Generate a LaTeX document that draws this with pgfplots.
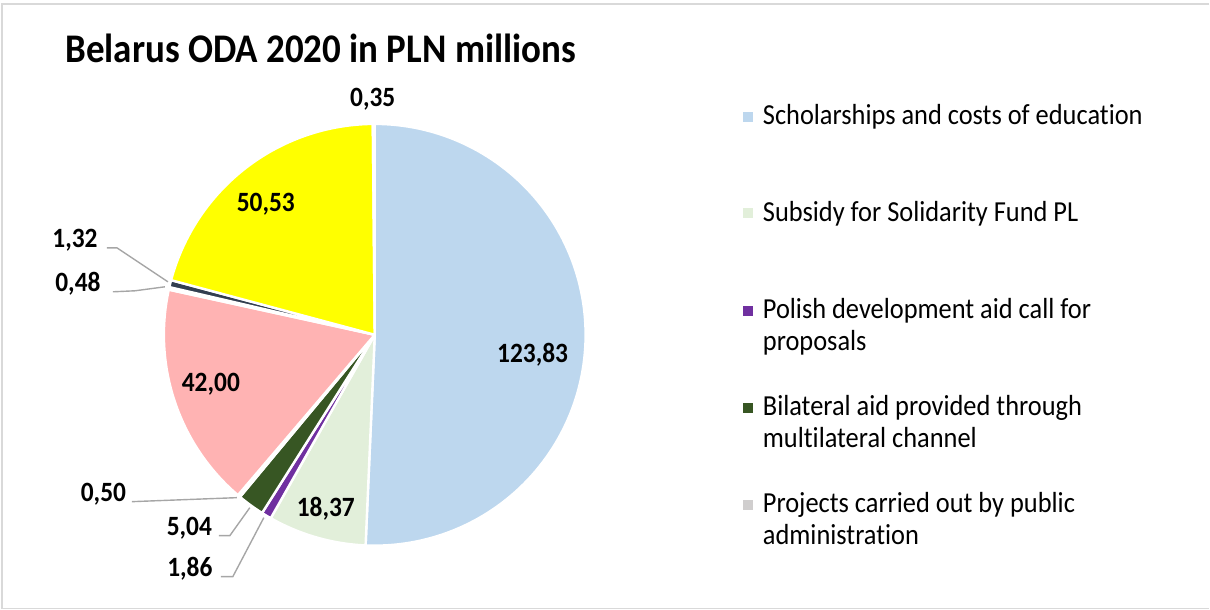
\documentclass[border=0pt]{standalone}
\usepackage{pgfplots}
\pgfplotsset{compat=1.18}
\usepackage{fontspec}
\setmainfont{Carlito}[Ligatures=NoCommon]
\definecolor{cBlue}{HTML}{BDD7EE}
\definecolor{cLGreen}{HTML}{E2EFDA}
\definecolor{cPurple}{HTML}{7030A0}
\definecolor{cDGreen}{HTML}{375623}
\definecolor{cGray}{HTML}{D0CECE}
\definecolor{cPink}{HTML}{FFB3B3}
\definecolor{cDark}{HTML}{333F50}
\definecolor{cYellow}{HTML}{FFFF00}
\definecolor{cLead}{HTML}{A6A6A6}
\definecolor{cFrame}{HTML}{D9D9D9}
% values (PLN millions), clockwise from 12 o'clock
\def\vA{123.83}\def\vB{18.37}\def\vC{1.86}\def\vD{5.04}\def\vE{0.50}
\def\vF{42.00}\def\vG{0.48}\def\vH{1.32}\def\vI{50.53}\def\vJ{0.35}
\pgfmathsetmacro\tot{\vA+\vB+\vC+\vD+\vE+\vF+\vG+\vH+\vI+\vJ}
\pgfmathsetmacro\aA{90}
\pgfmathsetmacro\aB{\aA-\vA/\tot*360}
\pgfmathsetmacro\aC{\aB-\vB/\tot*360}
\pgfmathsetmacro\aD{\aC-\vC/\tot*360}
\pgfmathsetmacro\aE{\aD-\vD/\tot*360}
\pgfmathsetmacro\aF{\aE-\vE/\tot*360}
\pgfmathsetmacro\aG{\aF-\vF/\tot*360}
\pgfmathsetmacro\aH{\aG-\vG/\tot*360}
\pgfmathsetmacro\aI{\aH-\vH/\tot*360}
\pgfmathsetmacro\aJ{\aI-\vI/\tot*360}
\pgfmathsetmacro\aK{\aJ-\vJ/\tot*360}
\newcommand\slice[3]{%
  \addplot[fill=#3, draw=white, line width=1.2pt, line join=round, domain=#2:#1, samples=120, variable=\t]
    ({375+211*cos(\t)},{275+211*sin(\t)}) -- (axis cs:375,275) -- cycle;}
\newcommand\vs[1]{\scalebox{1}[1.1]{#1}}
\newcommand\lab[3]{\node[anchor=base, inner sep=0pt, font=\fontsize{12.7}{15}\selectfont\bfseries] at (axis cs:#1,#2) {\vs{#3}};}
\newcommand\legsq[2]{\fill[#2] (axis cs:743,#1) rectangle (axis cs:753,{#1+10});}
\newcommand\legt[2]{\node[anchor=base west, inner sep=0pt, font=\fontsize{13.2}{15.5}\selectfont] at (axis cs:763,#1) {\vs{#2}};}
\begin{document}
\begin{tikzpicture}
\begin{axis}[
  width=605pt, height=305pt, scale only axis,
  xmin=0, xmax=1210, ymin=0, ymax=610,
  hide axis, clip=false]
\path (axis cs:0,0) rectangle (axis cs:1210,610);
\draw[cFrame, line width=0.8pt] (axis cs:1210,606) -- (axis cs:2,606) -- (axis cs:2,1) -- (axis cs:1210,1);
\slice{\aA}{\aB}{cBlue}
\slice{\aB}{\aC}{cLGreen}
\slice{\aC}{\aD}{cPurple}
\slice{\aD}{\aE}{cDGreen}
\slice{\aE}{\aF}{cGray}
\slice{\aF}{\aG}{cPink}
\slice{\aG}{\aH}{white}
\slice{\aH}{\aI}{cDark}
\slice{\aI}{\aJ}{cYellow}
\slice{\aJ}{\aK}{white}
% leader lines
\draw[cLead, line width=0.7pt] (axis cs:107,362) -- (axis cs:117,362) -- (axis cs:168,328);
\draw[cLead, line width=0.7pt] (axis cs:113,318) -- (axis cs:135,319) -- (axis cs:165,323);
\draw[cLead, line width=0.7pt] (axis cs:132,108) -- (axis cs:237,112);
\draw[cLead, line width=0.7pt] (axis cs:219,74) -- (axis cs:230,74) -- (axis cs:250,102);
\draw[cLead, line width=0.7pt] (axis cs:221,33) -- (axis cs:233,33) -- (axis cs:264,92);
% data labels
\lab{373}{503}{0,35}
\lab{533}{247}{123,83}
\lab{326}{93}{18,37}
\lab{190}{33}{1,86}
\lab{189.5}{74}{5,04}
\lab{103.5}{108}{0,50}
\lab{211}{218}{42,00}
\lab{266}{398}{50,53}
\lab{75}{362}{1,32}
\lab{78}{318}{0,48}
% title
\node[anchor=base west, inner sep=0pt, font=\fontsize{18.5}{22}\selectfont\bfseries] at (axis cs:65,547) {\vs{Belarus ODA 2020 in PLN millions}};
% legend
\legsq{488}{cBlue}
\legsq{392}{cLGreen}
\legsq{294}{cPurple}
\legsq{197}{cDGreen}
\legsq{100}{cGray}
\legt{485}{Scholarships and costs of education}
\legt{388}{Subsidy for Solidarity Fund PL}
\legt{291}{Polish development aid call for}
\legt{259}{proposals}
\legt{194}{Bilateral aid provided through}
\legt{162}{multilateral channel}
\legt{97}{Projects carried out by public}
\legt{65}{administration}
\end{axis}
\end{tikzpicture}
\end{document}
